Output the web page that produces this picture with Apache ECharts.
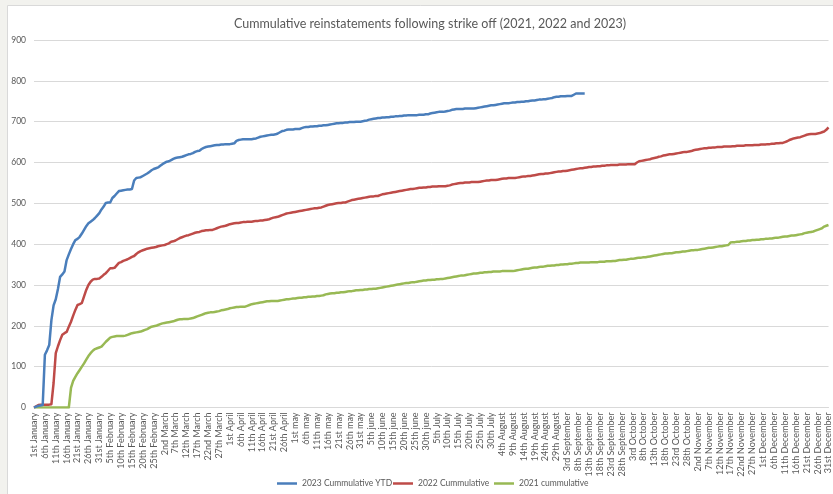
<!DOCTYPE html>
<html>
<head>
<meta charset="utf-8">
<script src="https://cdn.jsdelivr.net/npm/echarts@6/dist/echarts.min.js"></script>
<style>
  html, body { margin: 0; padding: 0; background: #f2f2ee; }
  #chart { width: 833px; height: 494px; }
</style>
</head>
<body>
<div id="chart"></div>
<script>
// Month names as written on the category axis, with the number of day slots each month uses
const monthNames = ["January", "February", "March", "April", "may", "june", "July", "August", "September", "October", "November", "December"];
const monthDays = [31, 28, 31, 30, 31, 30, 31, 31, 30, 31, 31, 31];

// Cumulative reinstatements, one value per day slot
const ytd2023 = [
  0,2,4,5,6,129,140,153,214,250, 265,290,320,326,333,361,375,388,400,410,
  413,418,426,435,444,451,455,459,464,470, 476,485,492,501,502,502,513,518,524,530,
  531,532,533,534,534,535,556,562,563,564, 567,570,573,577,581,584,586,588,592,596,
  599,602,603,606,609,611,612,613,614,616, 618,620,621,623,626,628,629,633,636,638,
  639,640,641,642,643,643,644,644,645,645, 645,646,647,653,655,656,657,657,657,657,
  657,658,659,661,663,664,665,666,667,668, 668,669,671,674,677,678,680,681,681,681,
  682,682,682,684,686,687,687,688,688,689, 689,690,690,691,691,692,693,694,695,696,
  696,697,697,698,698,699,699,699,700,700, 700,701,702,703,705,706,707,708,709,709,
  710,710,711,711,712,712,713,713,714,714, 715,715,716,716,716,716,716,717,717,717,
  718,718,720,721,722,723,724,724,724,725, 726,727,729,730,731,731,731,731,732,732,
  732,732,732,733,734,735,736,737,738,739, 740,740,741,742,743,744,745,745,745,746,
  747,747,748,748,749,749,750,750,751,752, 752,753,754,754,755,755,756,757,758,760,
  761,761,762,762,762,763,763,763,766,769, 769,769,769,769
];

const cum2022 = [
  0,3,6,7,7,7,7,7,8,60, 133,150,165,178,182,185,198,210,225,239,
  251,253,256,272,288,300,308,313,315,315, 316,320,325,329,335,341,341,342,348,354,
  356,359,361,363,366,369,371,376,380,383, 385,387,389,390,391,392,393,395,396,397,
  398,400,402,406,407,409,412,415,417,419, 421,422,424,426,428,429,430,432,433,434,
  434,435,435,437,439,441,443,444,445,447, 449,450,451,452,452,453,454,454,455,455,
  455,456,457,457,458,458,459,460,461,463, 465,466,467,469,471,473,475,476,477,478,
  479,480,481,482,483,484,485,486,487,488, 488,489,490,492,494,496,497,498,499,500,
  501,501,502,502,504,506,508,509,510,511, 512,513,514,515,516,517,517,518,518,520,
  522,523,524,525,526,527,528,529,530,531, 532,533,534,535,535,536,537,538,538,539,
  539,540,540,541,541,541,542,542,542,542, 543,544,546,547,548,549,550,550,551,551,
  551,552,552,552,552,553,554,555,556,556, 557,557,557,558,559,560,561,561,562,562,
  562,562,563,564,565,566,566,567,567,568, 569,570,571,572,572,573,573,574,575,576,
  577,578,578,579,579,580,581,582,583,584, 585,586,586,587,588,589,589,590,590,591,
  591,592,592,593,593,594,594,594,594,595, 595,595,595,596,596,596,596,600,603,604,
  605,606,607,608,610,611,612,614,615,617, 618,619,620,620,621,622,623,624,625,626,
  626,627,628,630,631,632,633,634,635,635, 636,636,637,637,638,638,638,639,639,639,
  639,640,640,641,641,641,641,642,642,642, 642,643,643,643,644,644,644,645,645,646,
  646,647,647,648,648,650,652,655,657,659, 660,661,662,664,666,668,669,670,670,670,
  671,672,674,676,680,686
];

const cum2021 = [
  0,0,0,0,0,0,0,0,0,0, 0,0,0,0,0,0,0,48,65,75,
  84,92,100,108,117,126,133,139,143,145, 147,149,155,161,166,171,173,174,175,175,
  175,175,176,178,180,182,183,184,185,186, 188,190,192,195,198,199,200,202,204,206,
  207,208,209,210,211,213,215,216,216,217, 217,217,218,219,221,223,225,227,229,231,
  232,233,233,234,235,236,238,239,240,241, 243,244,245,246,246,247,247,247,249,251,
  253,254,255,256,257,258,259,260,260,261, 261,261,261,262,263,264,265,265,266,267,
  267,268,269,269,270,270,271,271,272,272, 273,273,274,275,277,278,279,280,280,281,
  281,282,282,283,284,285,285,286,287,287, 288,288,289,289,290,290,291,291,292,293,
  294,295,296,297,298,299,300,301,302,303, 304,305,305,306,307,307,308,309,310,311,
  311,312,312,313,313,314,314,315,315,316, 317,318,319,320,321,322,323,323,324,325,
  326,327,328,328,329,330,330,331,331,332, 332,333,333,333,333,334,334,334,334,334,
  334,335,336,337,338,339,340,340,341,342, 343,343,344,345,345,346,347,347,348,348,
  349,349,350,350,351,351,352,352,353,354, 354,355,355,355,355,355,356,356,356,356,
  357,357,357,358,358,358,359,359,360,361, 361,362,362,363,364,364,365,366,367,367,
  368,368,369,370,371,372,373,374,375,376, 377,377,378,378,379,380,380,381,382,382,
  383,384,385,385,386,386,387,388,389,390, 391,391,392,393,394,395,395,396,397,398,
  404,405,405,406,406,407,408,408,409,409, 410,410,411,411,412,412,413,413,414,414,
  415,416,416,417,418,419,419,420,421,421, 422,423,424,425,427,428,429,430,431,433,
  435,437,439,443,445,447
];

const seriesNames = ["2023 Cummulative YTD", "2022 Cummulative", "2021 cummulative"];
const seriesColors = ["#4a7ebb", "#be4b48", "#98b954"];
const yTicks = [0, 100, 200, 300, 400, 500, 600, 700, 800, 900];

function ordinal(n) {
  if (n % 10 === 1 && n !== 11) return n + "st";
  if (n % 10 === 2 && n !== 12) return n + "nd";
  if (n % 10 === 3 && n !== 13) return n + "rd";
  return n + "th";
}

// Build one category per day slot: "1st January", "2nd January", ...
const categories = [];
monthNames.forEach((m, mi) => {
  for (let d = 1; d <= monthDays[mi]; d++) categories.push(ordinal(d) + " " + m);
});

const font = "Lato, 'Open Sans', sans-serif";
const chart = echarts.init(document.getElementById("chart"));

// One legend entry per series, laid out in a row along the bottom
const legendLeft = [277, 393, 494];
const legends = seriesNames.map((name, i) => ({
  data: [name],
  left: legendLeft[i], top: 479,
  padding: 0,
  icon: "rect",
  itemWidth: 20, itemHeight: 2.5,
  textStyle: { fontFamily: font, fontSize: 8.5, color: "#595959" }
}));

chart.setOption({
  backgroundColor: "transparent",
  animation: false,
  graphic: [{
    type: "rect",
    z: -10,
    shape: { x: 7.5, y: 5.5, width: 840, height: 500 },
    style: { fill: "#ffffff", stroke: "#d9d9d9", lineWidth: 1 }
  }],
  title: {
    text: "Cummulative reinstatements following strike off (2021, 2022 and 2023)",
    left: 425, top: 12, textAlign: "center",
    textStyle: { fontFamily: font, fontSize: 12.5, fontWeight: "normal", color: "#595959" }
  },
  legend: legends,
  grid: { left: 34, right: 1, top: 40, bottom: 86.5, containLabel: false },
  xAxis: {
    type: "category",
    data: categories,
    boundaryGap: false,
    axisLine: { lineStyle: { color: "#d9d9d9", width: 1 } },
    axisTick: { show: false },
    axisLabel: {
      interval: 4, rotate: 90, margin: 5,
      fontFamily: font, fontSize: 9, color: "#595959"
    }
  },
  yAxis: {
    type: "value",
    min: yTicks[0], max: yTicks[yTicks.length - 1], interval: 100,
    axisLine: { show: false },
    axisTick: { show: false },
    axisLabel: { margin: 8, fontFamily: font, fontSize: 8.5, color: "#595959" },
    splitLine: { lineStyle: { color: "#d9d9d9", width: 1 } }
  },
  series: [ytd2023, cum2022, cum2021].map((vals, i) => ({
    name: seriesNames[i],
    type: "line",
    data: vals,
    showSymbol: false,
    symbol: "none",
    color: seriesColors[i],
    lineStyle: { width: 2.5, color: seriesColors[i], join: "round" },
    z: 3 - i
  }))
});
</script>
</body>
</html>
